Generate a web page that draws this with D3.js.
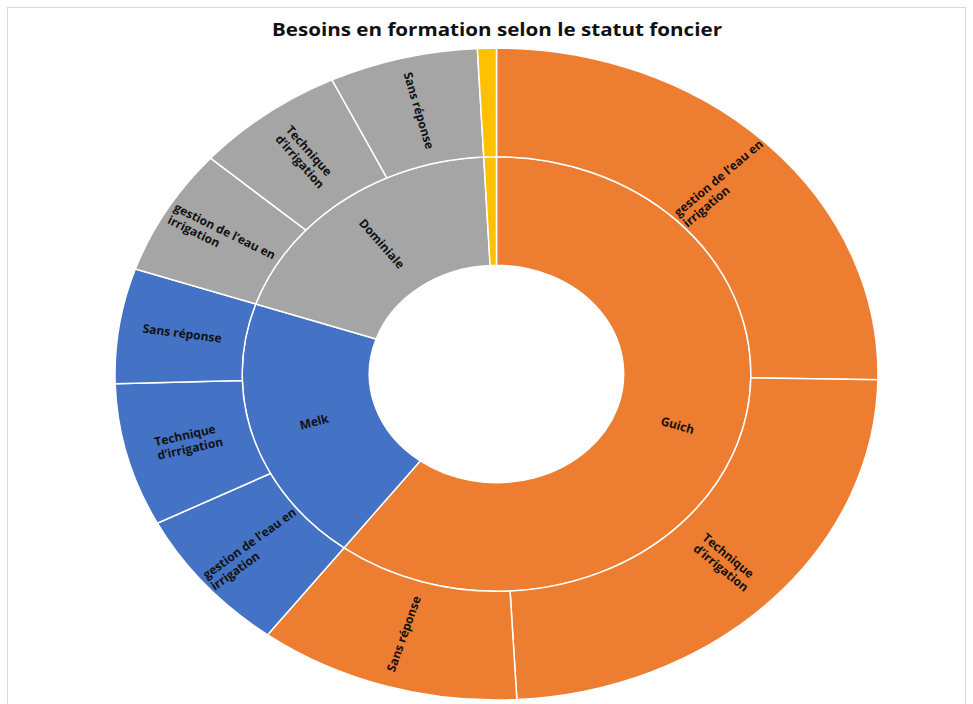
<!DOCTYPE html>
<html>
<head>
<meta charset="utf-8">
<script src="https://cdn.jsdelivr.net/npm/d3@7"></script>
<style>
    body { margin: 0; background: #fff; }
    svg { display: block; }
</style>
</head>
<body>
<div id="chart"></div>
<script>
// statut foncier (inner ring) and besoins (outer ring)
var statuts = ["Guich", "Melk", "Dominiale", "Autre"];
var besoins = ["gestion de l’eau en irrigation", "Technique d’irrigation", "Sans réponse"];
var guichValues = [25.3, 23.9, 11.1];
var melkValues = [7.2, 7.1, 5.7];
var dominialeValues = [6.3, 6.4, 6.3];
var autreValues = [0.8];
var couleurs = ["#ED7D31", "#4472C4", "#A5A5A5", "#FFC000"];

function init() {
    var w = 973;
    var h = 704;
    var cx = 496.5, cy = 374;
    var R = 326;          // vertical radius
    var sx = 381.5 / 326; // picture is stretched horizontally
    var font = "'Open Sans', Lato, sans-serif";

    var series = [guichValues, melkValues, dominialeValues, autreValues];
    var data = {
        name: "root",
        children: statuts.map(function(s, i) {
            return {
                name: s,
                color: couleurs[i],
                children: series[i].map(function(v, j) {
                    return { name: series[i].length > 1 ? besoins[j] : "", value: v };
                })
            };
        })
    };

    var root = d3.hierarchy(data).sum(function(d) { return d.value || 0; });
    d3.partition().size([2 * Math.PI, 3])(root);

    var svg = d3.select("#chart")
        .append("svg")
        .attr("width", w)
        .attr("height", h);

    svg.append("rect")
        .attr("x", 7.5)
        .attr("y", 7.5)
        .attr("width", 958)
        .attr("height", 720)
        .attr("fill", "none")
        .attr("stroke", "#d9d9d9");

    svg.append("text")
        .attr("x", 497)
        .attr("y", 36)
        .attr("text-anchor", "middle")
        .attr("font-family", font)
        .attr("font-weight", "bold")
        .attr("font-size", "18.5px")
        .attr("textLength", 450)
        .attr("lengthAdjust", "spacingAndGlyphs")
        .attr("fill", "#111")
        .text("Besoins en formation selon le statut foncier");

    var rScale = d3.scaleLinear().domain([0, 3]).range([0, R]);

    var arc = d3.arc()
        .startAngle(function(d) { return d.x0; })
        .endAngle(function(d) { return d.x1; })
        .innerRadius(function(d) { return rScale(d.y0); })
        .outerRadius(function(d) { return rScale(d.y1); });

    var nodes = root.descendants().filter(function(d) { return d.depth > 0; });

    function colorOf(d) {
        return d.depth === 1 ? d.data.color : d.parent.data.color;
    }

    svg.append("g")
        .attr("transform", "translate(" + cx + "," + cy + ") scale(" + sx + ",1)")
        .selectAll("path")
        .data(nodes)
        .enter()
        .append("path")
        .attr("d", arc)
        .attr("fill", colorOf)
        .attr("stroke", "#fff")
        .attr("stroke-width", 1.5)
        .attr("vector-effect", "non-scaling-stroke");

    // label wrapping with measured widths
    var measure = svg.append("text")
        .attr("font-family", font)
        .attr("font-weight", "bold")
        .attr("font-size", "12px");

    function textWidth(s) {
        measure.text(s);
        return measure.node().getComputedTextLength();
    }

    function wrap(s, maxW) {
        var words = s.split(" ");
        var lines = [];
        var cur = "";
        words.forEach(function(wd) {
            var t = cur ? cur + " " + wd : wd;
            if (cur && textWidth(t) > maxW) {
                lines.push(cur);
                cur = wd;
            } else {
                cur = t;
            }
        });
        if (cur) lines.push(cur);
        return lines;
    }

    var labelled = nodes.filter(function(d) { return d.data.name && d.data.name !== "Autre"; });

    var labels = svg.append("g")
        .selectAll("g")
        .data(labelled)
        .enter()
        .append("g")
        .attr("transform", function(d) {
            var a = (d.x0 + d.x1) / 2;
            var r = rScale((d.y0 + d.y1) / 2);
            var x = cx + sx * r * Math.sin(a);
            var y = cy - r * Math.cos(a);
            var rot = Math.atan2(-Math.cos(a), sx * Math.sin(a)) * 180 / Math.PI;
            if (rot > 90) rot -= 180;
            if (rot < -90) rot += 180;
            return "translate(" + x + "," + y + ") rotate(" + rot + ")";
        });

    labels.each(function(d) {
        var lines = wrap(d.data.name, 128);
        var maxW = d3.max(lines, textWidth);
        var lh = 14;
        var t = d3.select(this).append("text")
            .attr("font-family", font)
            .attr("font-weight", "bold")
            .attr("font-size", "12px")
            .attr("fill", "#111");
        lines.forEach(function(line, i) {
            t.append("tspan")
                .attr("x", -maxW / 2)
                .attr("y", (i - (lines.length - 1) / 2) * lh + 4)
                .text(line);
        });
    });

    measure.remove();
}

window.onload = init;
</script>
</body>
</html>
